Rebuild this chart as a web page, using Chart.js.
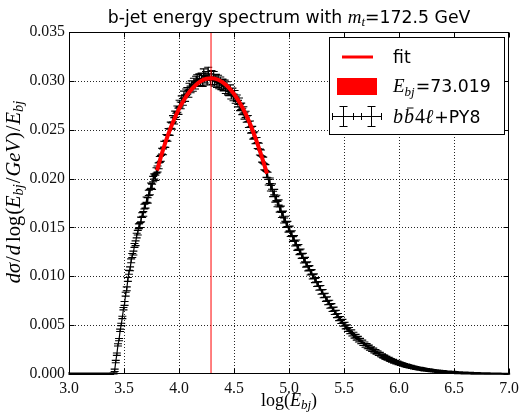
<!DOCTYPE html>
<html><head><meta charset="utf-8">
<script src="https://cdn.jsdelivr.net/npm/chart.js@4.4.1/dist/chart.umd.min.js"></script>
<style>html,body{margin:0;padding:0;background:#fff;}#wrap{width:524px;height:414px;}</style>
</head><body><div id="wrap"><canvas id="c" width="524" height="414"></canvas></div>
<script>
// ---------- data ----------
const BIN_MIN = 3.0, BIN_WIDTH = 0.01;
const xTicks = [3.0, 3.5, 4.0, 4.5, 5.0, 5.5, 6.0, 6.5, 7.0];
const yTicks = [0.000, 0.005, 0.010, 0.015, 0.020, 0.025, 0.030, 0.035];
const EBJ = 73.019;
const MT = 172.5;
// histogram contents, one row per 0.1 in log(E_bj)
const counts = [
0,0,0,0,0,0,0,0,0,0,
0,0,0,0,0,0,0,0,0,0,
0,0,0,0,0,0,0,0,0,0,
0,0,0,0,0,0,0,0,0,0,
0,0.00038,0.00127,0.00203,0.00298,0.00352,0.00447,0.00507,0.00579,0.00668,
0.00722,0.00817,0.00872,0.00968,0.01041,0.01076,0.01158,0.01213,0.01238,0.01316,
0.01338,0.01417,0.01446,0.01512,0.01524,0.01581,0.01626,0.01638,0.01713,0.01722,
0.01784,0.01776,0.01853,0.01862,0.01928,0.01916,0.01995,0.02021,0.02008,0.02083,
0.02098,0.02131,0.02196,0.02207,0.02281,0.02274,0.02352,0.02349,0.02421,0.02412,
0.02481,0.02474,0.02546,0.02538,0.02612,0.02591,0.02658,0.02637,0.02711,0.02689,
0.02768,0.02749,0.02812,0.02785,0.02861,0.02824,0.02883,0.02898,0.02866,0.02942,
0.02912,0.02966,0.02928,0.02993,0.02951,0.03013,0.03029,0.02976,0.03038,0.02989,
0.03046,0.02978,0.03089,0.03012,0.03061,0.02992,0.03105,0.03038,0.02991,0.03072,
0.02996,0.03061,0.02979,0.03034,0.02966,0.03024,0.02953,0.03005,0.02943,0.02984,
0.02931,0.02974,0.02904,0.02957,0.02891,0.02882,0.02925,0.02849,0.02892,0.02831,
0.02869,0.02804,0.02822,0.02767,0.02791,0.02728,0.02739,0.02687,0.02702,0.02641,
0.02657,0.02608,0.02613,0.02554,0.02557,0.02497,0.02502,0.02436,0.02447,0.02389,
0.02391,0.02338,0.02331,0.02271,0.02263,0.02198,0.02189,0.02121,0.02113,0.02042,
0.02037,0.01962,0.01978,0.01901,0.01918,0.01843,0.01861,0.01787,0.01802,0.01739,
0.01756,0.01683,0.01692,0.01628,0.01641,0.01571,0.01589,0.01527,0.01536,0.01478,
0.01489,0.01431,0.01442,0.01381,0.01392,0.01334,0.01347,0.01289,0.01301,0.01246,
0.01256,0.01206,0.01211,0.01159,0.01171,0.01117,0.01124,0.01078,0.01086,0.01036,
0.01046,0.00994,0.01003,0.00957,0.00964,0.00918,0.00923,0.00879,0.00884,0.00838,
0.00843,0.00802,0.00806,0.00764,0.00769,0.00729,0.00733,0.00694,0.00699,0.00661,
0.00664,0.00629,0.00631,0.00597,0.00599,0.00566,0.00569,0.00537,0.00539,0.00508,
0.00511,0.00481,0.00484,0.00455,0.00457,0.00431,0.00433,0.00408,0.00409,0.00386,
0.00388,0.00365,0.00367,0.00345,0.00347,0.00327,0.00329,0.00309,0.00310,0.00292,
0.00294,0.00276,0.00278,0.00260,0.00262,0.00247,0.00248,0.00233,0.00234,0.00220,
0.00219,0.00206,0.00205,0.00192,0.00191,0.00180,0.00178,0.00168,0.00166,0.00156,
0.00155,0.00145,0.00144,0.00135,0.00135,0.00126,0.00126,0.00118,0.00118,0.00110,
0.00109,0.00102,0.00101,0.00095,0.00094,0.00088,0.00087,0.00082,0.00081,0.00076,
0.00075,0.00070,0.00069,0.00065,0.00064,0.00060,0.00059,0.00056,0.00055,0.00052,
0.00051,0.00048,0.00047,0.000442,0.000435,0.000408,0.000402,0.000376,0.00037,0.000348,
0.000342,0.000321,0.000315,0.000296,0.000291,0.000272,0.000268,0.000252,0.000247,0.000232,
0.000228,0.000214,0.00021,0.000197,0.000194,0.000181,0.000179,0.000168,0.000165,0.000154,
0.000152,0.000142,0.00014,0.00013,0.000129,0.00012,0.000119,0.00011,0.000108,0.000102,
0.0001,0.000094,0.000092,0.000086,0.000085,0.000079,0.000078,0.000073,0.000072,0.000067,
0.000066,0.000061,0.00006,0.000056,0.000056,0.000052,0.000051,0.000047,0.000047,0.000043,
0.000043,0.000039,0.000039,0.000036,0.000037,0.000033,0.000034,0.00003,0.00003,0.000028,
0.000028,0.000025,0.000025,0.000023,0.000023,0.000021,0.000021,0.000019,0.000019,0.000018
];
// statistical error per row of 10 bins (0.1 in log(E_bj))
const rowErrors = [0.0001,0.0001,0.0001,0.0001,0.00012,0.0002,0.00024,0.00027,0.0003,0.00032,
0.00034,0.00034,0.00034,0.00034,0.00034,0.00033,0.00032,0.0003,0.00028,0.00026,
0.00024,0.00023,0.00022,0.00021,0.0002,0.00019,0.00018,0.00017,0.00016,0.00015,
0.00014,0.00013,0.00012,0.00011,0.0001,0.00009,0.00008,0.00007,0.00006,0.00005];
const fitX = [3.80,3.85,3.90,3.95,4.00,4.05,4.10,4.15,4.20,4.25,4.30,4.35,4.40,4.45,4.50,4.55,4.60,4.65,4.70,4.75,4.80];
const fitY = [0.02082,0.02278,0.02447,0.02592,0.02714,0.02815,0.02895,0.02956,0.02998,0.03021,0.03027,0.03014,0.02983,0.02934,0.02865,0.02778,0.02674,0.02547,0.02399,0.02229,0.02050];

// ---------- build ----------
const histPts = counts.map((v, i) => ({x: BIN_MIN + (i + 0.5) * BIN_WIDTH, y: v}));
const fitPts = fitX.map((x, i) => ({x, y: fitY[i]}));
const peakX = Math.log(EBJ);
const vlinePts = [{x: peakX, y: yTicks[0]}, {x: peakX, y: yTicks[yTicks.length - 1]}];

const SANS = '"DejaVu Sans", Verdana, sans-serif';
const SERIF = '"Liberation Serif", "Times New Roman", serif';
const FS = 17.3;

function rich(ctx, segs, x, y, align) {
  let w = 0;
  segs.forEach(s => { ctx.font = s.f; s.w = ctx.measureText(s.t).width; w += s.w + (s.dx || 0); });
  let cx = align === 'center' ? x - w / 2 : x;
  segs.forEach(s => {
    ctx.font = s.f;
    cx += (s.dx || 0);
    ctx.fillText(s.t, cx, y + (s.dy || 0));
    if (s.bar) {
      ctx.save(); ctx.lineWidth = 1; ctx.strokeStyle = ctx.fillStyle;
      ctx.beginPath(); ctx.moveTo(cx + s.w * 0.3, y - s.bar); ctx.lineTo(cx + s.w * 0.95, y - s.bar); ctx.stroke();
      ctx.restore();
    }
    cx += s.w;
  });
  return w;
}

const decor = {
  id: 'decor',
  beforeDatasetsDraw(chart) {
    const {ctx, chartArea: a, scales: {x, y}} = chart;
    ctx.save();
    // dotted grid
    ctx.strokeStyle = 'rgba(0,0,0,0.85)';
    ctx.lineWidth = 1;
    ctx.setLineDash([1, 2]);
    xTicks.slice(1, -1).forEach(v => {
      const p = Math.round(x.getPixelForValue(v)) + 0.5;
      ctx.beginPath(); ctx.moveTo(p, a.top); ctx.lineTo(p, a.bottom); ctx.stroke();
    });
    yTicks.slice(1, -1).forEach(v => {
      const p = Math.round(y.getPixelForValue(v)) + 0.5;
      ctx.beginPath(); ctx.moveTo(a.left, p); ctx.lineTo(a.right, p); ctx.stroke();
    });
    ctx.setLineDash([]);
    // error bars
    ctx.beginPath(); ctx.rect(a.left - 1, a.top, a.right - a.left + 2, a.bottom - a.top + 1); ctx.clip();
    ctx.strokeStyle = '#000';
    ctx.lineWidth = 1.1;
    const cap = 4;
    ctx.beginPath();
    histPts.forEach((p, i) => {
      const e = rowErrors[Math.floor(i / 10)];
      const px = x.getPixelForValue(p.x);
      const py = y.getPixelForValue(p.y);
      const pt = y.getPixelForValue(p.y + e);
      const pb = y.getPixelForValue(p.y - e);
      const xl = x.getPixelForValue(p.x - BIN_WIDTH / 2);
      const xr = x.getPixelForValue(p.x + BIN_WIDTH / 2);
      ctx.moveTo(px, pt); ctx.lineTo(px, pb);
      ctx.moveTo(px - cap, pt); ctx.lineTo(px + cap, pt);
      ctx.moveTo(px - cap, pb); ctx.lineTo(px + cap, pb);
      ctx.moveTo(xl, py); ctx.lineTo(xr, py);
    });
    ctx.stroke();
    ctx.restore();
  },
  afterDraw(chart) {
    const {ctx, chartArea: a, scales: {x, y}} = chart;
    ctx.save();
    // frame
    ctx.strokeStyle = '#000'; ctx.lineWidth = 1;
    const L = Math.round(a.left) + 0.5, R = Math.round(a.right) - 0.5, T = Math.round(a.top) + 0.5, B = Math.round(a.bottom) - 0.5;
    ctx.strokeRect(L, T, R - L, B - T);
    // inward ticks
    const tl = 5;
    ctx.beginPath();
    xTicks.forEach(v => {
      const p = Math.round(x.getPixelForValue(v)) + 0.5;
      ctx.moveTo(p, B); ctx.lineTo(p, B - tl);
      ctx.moveTo(p, T); ctx.lineTo(p, T + tl);
    });
    yTicks.forEach(v => {
      const p = Math.round(y.getPixelForValue(v)) + 0.5;
      ctx.moveTo(L, p); ctx.lineTo(L + tl, p);
      ctx.moveTo(R, p); ctx.lineTo(R - tl, p);
    });
    ctx.stroke();

    ctx.fillStyle = '#000';
    ctx.textBaseline = 'alphabetic';
    // title
    rich(ctx, [
      {t: 'b-jet energy spectrum with ', f: `${FS}px ${SANS}`},
      {t: 'm', f: `italic 19px ${SERIF}`},
      {t: 't', f: `italic 13px ${SERIF}`, dy: 3},
      {t: '=' + MT + ' GeV', f: `${FS}px ${SANS}`}
    ], (a.left + a.right) / 2, 23, 'center');

    // x axis title
    rich(ctx, [
      {t: 'log', f: `18px ${SERIF}`},
      {t: '(', f: `18px ${SERIF}`},
      {t: 'E', f: `italic 18px ${SERIF}`},
      {t: 'bj', f: `italic 13px ${SERIF}`, dy: 3},
      {t: ')', f: `18px ${SERIF}`}
    ], (a.left + a.right) / 2, 406, 'center');

    // y axis title
    const YF = 20.5, YS = 14.5;
    ctx.save();
    ctx.translate(15, 192);
    ctx.rotate(-Math.PI / 2);
    rich(ctx, [
      {t: 'd\u03c3', f: `italic ${YF}px ${SERIF}`},
      {t: '/', f: `${YF}px ${SERIF}`, dx: 1},
      {t: 'd', f: `italic ${YF}px ${SERIF}`, dx: 1},
      {t: 'log', f: `${YF}px ${SERIF}`, dx: 3},
      {t: '(', f: `${YF}px ${SERIF}`, dx: 1},
      {t: 'E', f: `italic ${YF}px ${SERIF}`},
      {t: 'bj', f: `italic ${YS}px ${SERIF}`, dy: 3},
      {t: '/', f: `${YF}px ${SERIF}`, dx: 1},
      {t: 'GeV', f: `italic ${YF}px ${SERIF}`, dx: 1},
      {t: ')', f: `${YF}px ${SERIF}`, dx: 1},
      {t: '/', f: `${YF}px ${SERIF}`, dx: 1},
      {t: 'E', f: `italic ${YF}px ${SERIF}`, dx: 1},
      {t: 'bj', f: `italic ${YS}px ${SERIF}`, dy: 3}
    ], 0, 5, 'center');
    ctx.restore();

    // legend
    const lx = 329, ly = 37, lw = 175, lh = 97;
    ctx.fillStyle = '#fff';
    ctx.fillRect(lx, ly, lw, lh);
    ctx.strokeStyle = '#000'; ctx.lineWidth = 1;
    ctx.strokeRect(lx + 0.5, ly + 0.5, lw, lh);
    // fit entry
    ctx.strokeStyle = '#ff0000'; ctx.lineWidth = 3;
    ctx.beginPath(); ctx.moveTo(342, 57); ctx.lineTo(373, 57); ctx.stroke();
    ctx.fillStyle = '#000';
    rich(ctx, [{t: 'fit', f: `${FS}px ${SANS}`}], 393, 63);
    // Ebj entry
    ctx.fillStyle = '#ff0000';
    ctx.fillRect(337, 78, 40, 17);
    ctx.fillStyle = '#000';
    rich(ctx, [
      {t: 'E', f: `italic 19px ${SERIF}`},
      {t: 'bj', f: `italic 13px ${SERIF}`, dy: 4},
      {t: '=' + EBJ.toFixed(3), f: `${FS}px ${SANS}`, dx: 1}
    ], 393, 92);
    // data entry
    ctx.strokeStyle = '#000'; ctx.lineWidth = 1;
    ctx.beginPath();
    const ey = 116.5;
    ctx.moveTo(332, ey); ctx.lineTo(382, ey);
    [343.5, 371.5].forEach(px => {
      ctx.moveTo(px, ey - 10); ctx.lineTo(px, ey + 10);
      ctx.moveTo(px - 4, ey - 10); ctx.lineTo(px + 4, ey - 10);
      ctx.moveTo(px - 4, ey + 10); ctx.lineTo(px + 4, ey + 10);
    });
    [332.5, 353.5, 361.5, 381.5].forEach(px => { ctx.moveTo(px, ey - 3.5); ctx.lineTo(px, ey + 3.5); });
    ctx.stroke();
    rich(ctx, [
      {t: 'b', f: `italic 20px ${SERIF}`},
      {t: 'b', f: `italic 20px ${SERIF}`, bar: 15, dx: 1},
      {t: '4', f: `20px ${SERIF}`, dx: 1},
      {t: '\u2113', f: `italic 20px ${SERIF}`},
      {t: '+PY8', f: `${FS}px ${SANS}`, dx: 1}
    ], 393, 123);
    ctx.restore();
  }
};

new Chart(document.getElementById('c'), {
  type: 'scatter',
  data: {
    datasets: [
      {label: 'b\u0305b4\u2113+PY8', data: histPts, showLine: true, borderColor: '#000', borderWidth: 1.2, pointRadius: 0, order: 3, clip: 2},
      {label: 'fit', data: fitPts, showLine: true, borderColor: '#ff0000', borderWidth: 4, pointRadius: 0, tension: 0.4, order: 2},
      {label: 'E_bj', data: vlinePts, showLine: true, borderColor: '#ff0000', borderWidth: 1, pointRadius: 0, order: 1}
    ]
  },
  options: {
    responsive: false,
    animation: false,
    devicePixelRatio: 1,
    layout: {padding: {top: 32, right: 12, left: 0, bottom: 0}},
    plugins: {legend: {display: false}, title: {display: false}, tooltip: {enabled: false}},
    scales: {
      x: {
        type: 'linear', min: xTicks[0], max: xTicks[xTicks.length - 1],
        afterBuildTicks: s => { s.ticks = xTicks.map(v => ({value: v})); },
        afterFit: s => { s.height = 40; },
        grid: {display: false, drawTicks: false},
        border: {display: false},
        ticks: {color: '#111', padding: 5, maxRotation: 0, autoSkip: false,
          font: {family: SERIF, size: 15.8}, callback: v => Number(v).toFixed(1)}
      },
      y: {
        type: 'linear', min: yTicks[0], max: yTicks[yTicks.length - 1],
        afterBuildTicks: s => { s.ticks = yTicks.map(v => ({value: v})); },
        afterFit: s => { s.width = 69; },
        grid: {display: false, drawTicks: false},
        border: {display: false},
        ticks: {color: '#111', padding: 4, autoSkip: false,
          font: {family: SERIF, size: 15.8}, callback: v => Number(v).toFixed(3)}
      }
    }
  },
  plugins: [decor]
});
</script>
</body></html>
